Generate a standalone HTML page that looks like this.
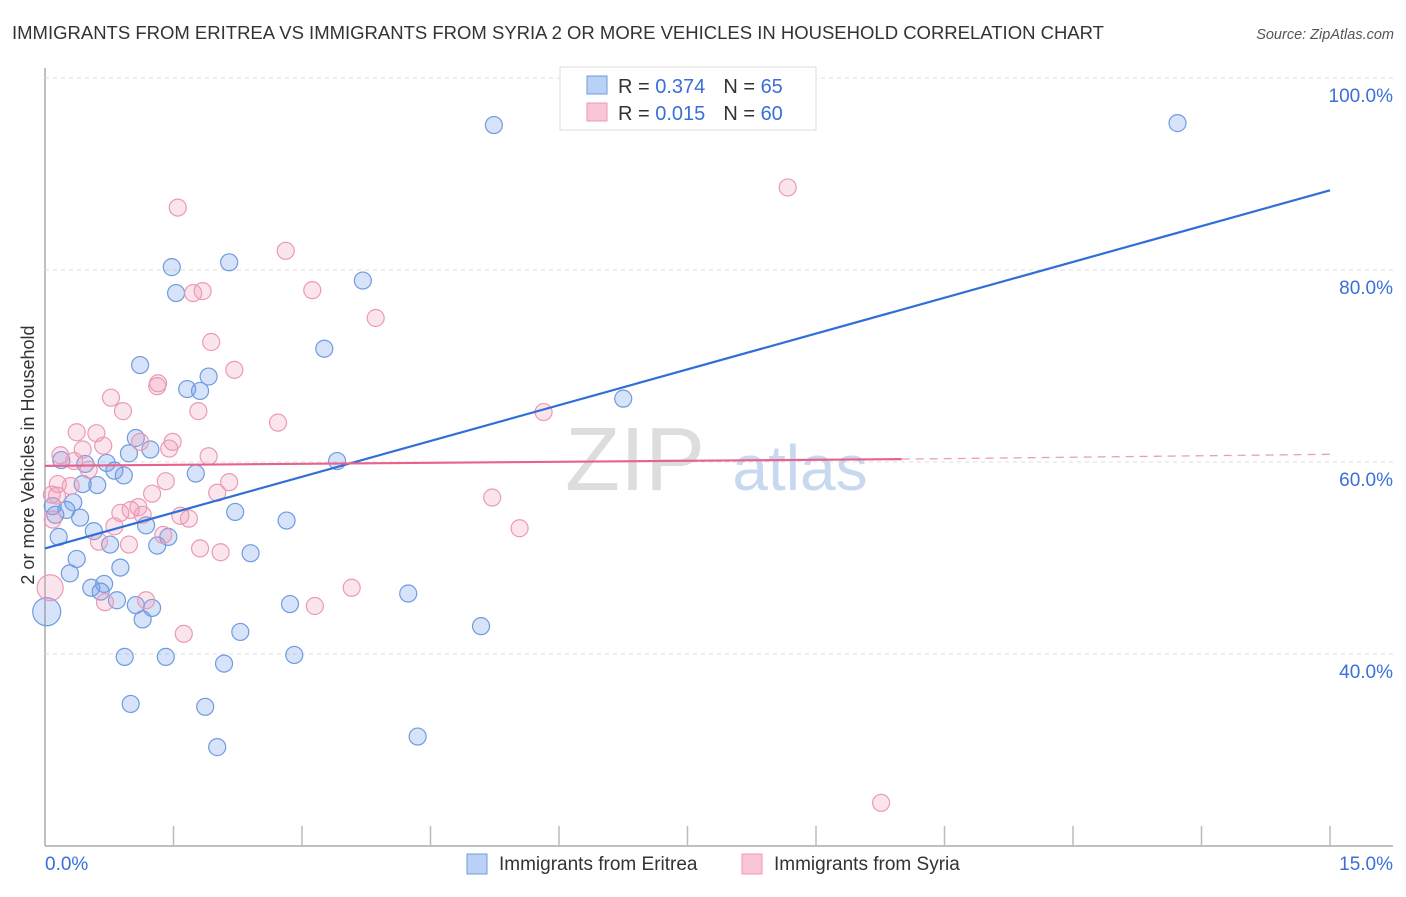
<!DOCTYPE html>
<html><head><meta charset="utf-8"><style>
body{margin:0;background:#fff;font-family:"Liberation Sans",sans-serif;}
svg text{font-family:"Liberation Sans",sans-serif;}
</style></head><body>
<svg id="chart" width="1406" height="892" xmlns="http://www.w3.org/2000/svg">
<text x="12" y="39" font-size="18.5" fill="#333">IMMIGRANTS FROM ERITREA VS IMMIGRANTS FROM SYRIA 2 OR MORE VEHICLES IN HOUSEHOLD CORRELATION CHART</text>
<text x="1394" y="39" font-size="14.5" fill="#555" font-style="italic" text-anchor="end">Source: ZipAtlas.com</text>
<text x="34" y="455" font-size="18" fill="#333" text-anchor="middle" transform="rotate(-90 34 455)">2 or more Vehicles in Household</text>
<g id="grid"></g>
<g><text x="635" y="490" font-size="90" fill="#ddd" font-family="Liberation Serif" text-anchor="middle">ZIP</text><text x="800" y="490" font-size="64" fill="#c8d8f0" text-anchor="middle">atlas</text></g>
<g id="marks"></g>
<g id="lines"></g>
<g>
<rect x="560" y="67" width="256" height="63" fill="#fff" stroke="#ddd"/>
<rect x="587" y="76" width="20" height="18" fill="#b9d1f5" stroke="#6f9be0"/>
<rect x="587" y="103" width="20" height="18" fill="#fac6d6" stroke="#eb9ab5"/>
<text x="618" y="93" font-size="20" fill="#333">R = <tspan fill="#3a6fd8">0.374</tspan><tspan dx="18">N = </tspan><tspan fill="#3a6fd8">65</tspan></text>
<text x="618" y="120" font-size="20" fill="#333">R = <tspan fill="#3a6fd8">0.015</tspan><tspan dx="18">N = </tspan><tspan fill="#3a6fd8">60</tspan></text>
</g>
<g>
<rect x="467" y="854" width="20" height="20" fill="#b9d1f5" stroke="#6f9be0"/>
<text x="499" y="870" font-size="19" fill="#333">Immigrants from Eritrea</text>
<rect x="742" y="854" width="20" height="20" fill="#fac6d6" stroke="#eb9ab5"/>
<text x="774" y="870" font-size="19" fill="#333">Immigrants from Syria</text>
</g>
</svg>
<script>
const xTicks=[0,1.5,3,4.5,6,7.5,9,10.5,12,13.5,15];
const yTicks=[40,60,80,100];
const yTickLabels=["40.0%","60.0%","80.0%","100.0%"];
const xEndLabels=["0.0%","15.0%"];
const eritreaX=[5.24,13.22,1.48,2.15,1.53,3.71,3.26,1.11,1.66,1.81,1.91,6.75,1.06,1.23,0.98,0.19,0.47,0.72,0.81,0.92,1.76,3.41,0.44,0.61,0.33,0.09,0.25,0.12,0.41,2.22,2.82,0.57,1.18,1.44,0.16,0.76,1.31,2.40,0.37,0.88,0.29,0.69,0.54,0.65,0.84,1.06,1.25,1.14,2.86,4.24,5.09,2.28,0.93,1.41,2.09,2.91,1.00,1.87,2.01,4.35,0.02];
const eritreaY=[95.1,95.3,80.3,80.8,77.6,78.9,71.8,70.1,67.6,67.4,68.9,66.6,62.5,61.3,60.9,60.2,59.8,59.9,59.1,58.6,58.8,60.1,57.7,57.6,55.8,55.4,55.0,54.5,54.2,54.8,53.9,52.8,53.4,52.2,52.2,51.4,51.3,50.5,49.9,49.0,48.4,47.3,46.9,46.5,45.6,45.1,44.8,43.6,45.2,46.3,42.9,42.3,39.7,39.7,39.0,39.9,34.8,34.5,30.3,31.4,44.4];
const syriaX=[1.55,8.67,2.81,3.12,1.73,1.84,3.86,1.94,2.21,1.32,1.31,0.77,0.91,1.79,5.82,2.72,0.37,0.60,1.11,1.49,1.45,0.44,0.18,0.68,1.91,0.34,0.51,2.15,1.41,0.15,0.30,1.25,2.01,5.22,0.14,0.88,1.00,1.09,1.14,1.58,1.68,0.81,5.54,1.38,0.63,0.98,1.81,2.05,3.58,3.15,0.70,1.18,1.62,9.76,0.06,0.08,0.09];
const syriaY=[86.5,88.6,82.0,77.9,77.6,77.8,75.0,72.5,69.6,68.2,67.9,66.7,65.3,65.3,65.2,64.1,63.1,63.0,62.1,62.1,61.4,61.3,60.7,61.7,60.6,60.1,59.2,57.9,58.0,57.7,57.5,56.7,56.8,56.3,56.5,54.7,55.0,55.3,54.5,54.4,54.1,53.3,53.1,52.4,51.7,51.4,51.0,50.6,46.9,45.0,45.4,45.6,42.1,24.5,46.9,56.6,54.0];
const eritreaTrend=[[0,51.0],[15,88.3]];
const syriaTrend=[[0,59.6],[10,60.3],[15,60.8]];
const NS="http://www.w3.org/2000/svg";
const X=v=>45+v/15*1285, Y=v=>846-(v-20)*9.6;
function mk(t,a,p){const e=document.createElementNS(NS,t);for(const k in a)e.setAttribute(k,a[k]);p.appendChild(e);return e;}
const grid=document.getElementById('grid');
mk('line',{x1:45,y1:68,x2:45,y2:846,stroke:'#aaa','stroke-width':1.5},grid);
mk('line',{x1:45,y1:846,x2:1393,y2:846,stroke:'#aaa','stroke-width':1.5},grid);
yTicks.forEach((v,i)=>{
 const l=mk('line',{x1:45,y1:Y(v),x2:1393,y2:Y(v),stroke:'#ddd','stroke-dasharray':'4 4'},grid);
 
 
 const t=mk('text',{x:1393,y:Y(v)+24,'font-size':19,fill:'#3a6fd8','text-anchor':'end'},grid);t.textContent=yTickLabels[i];
 
 
});
xTicks.forEach((v,i)=>{if(i===0)return;
 const l=mk('line',{x1:X(v),y1:826,x2:X(v),y2:846,stroke:'#bbb','stroke-width':1.5},grid);
 
 
});
let t0=mk('text',{x:45,y:870,'font-size':19,fill:'#3a6fd8'},grid);t0.textContent=xEndLabels[0];


let t1=mk('text',{x:1393,y:870,'font-size':19,fill:'#3a6fd8','text-anchor':'end'},grid);t1.textContent=xEndLabels[1];


const marks=document.getElementById('marks');
eritreaX.forEach((x,i)=>{const big=i===eritreaX.length-1;
 const c=mk('circle',{cx:X(x),cy:Y(eritreaY[i]),r:big?14:8.5,fill:'rgba(110,155,230,0.28)',stroke:'#6f9be0','stroke-width':1.2},marks);
 
 
});
syriaX.forEach((x,i)=>{const big=i===syriaX.length-3;
 const c=mk('circle',{cx:X(x),cy:Y(syriaY[i]),r:big?13:8.5,fill:'rgba(240,150,180,0.25)',stroke:'#eb9ab5','stroke-width':1.2},marks);
 
 
});
const lines=document.getElementById('lines');
const b=mk('line',{x1:X(eritreaTrend[0][0]),y1:Y(eritreaTrend[0][1]),x2:X(eritreaTrend[1][0]),y2:Y(eritreaTrend[1][1]),stroke:'#2f6fd6','stroke-width':2.2},lines);


const p=mk('line',{x1:X(syriaTrend[0][0]),y1:Y(syriaTrend[0][1]),x2:X(syriaTrend[1][0]),y2:Y(syriaTrend[1][1]),stroke:'#e8628f','stroke-width':2.2},lines);


const pd=mk('line',{x1:X(syriaTrend[1][0]),y1:Y(syriaTrend[1][1]),x2:X(syriaTrend[2][0]),y2:Y(syriaTrend[2][1]),stroke:'#e8a0b8','stroke-width':1.3,'stroke-dasharray':'8 6'},lines);


</script>
</body></html>
